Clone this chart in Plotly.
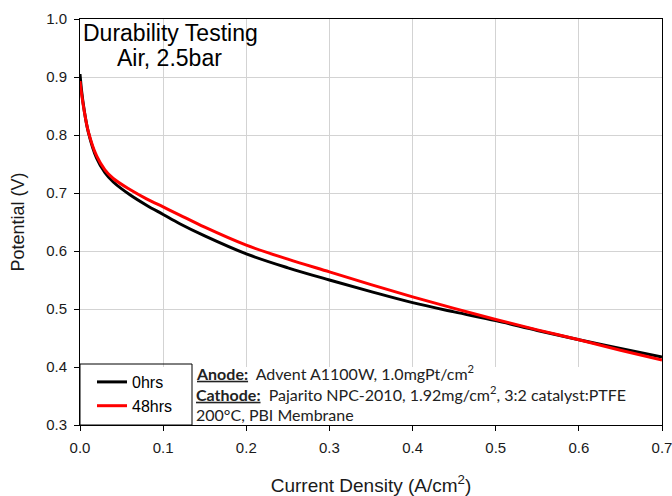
import plotly.graph_objects as go

# ---- data ----
current_density = [0.0, 0.002, 0.005, 0.01, 0.02, 0.03, 0.04, 0.06, 0.08, 0.10,
                   0.12, 0.15, 0.20, 0.25, 0.30, 0.35, 0.40, 0.45, 0.50, 0.55,
                   0.60, 0.65, 0.70]
potential_0hrs = [0.905, 0.875, 0.843, 0.805, 0.760, 0.735, 0.719, 0.697, 0.679, 0.663,
                  0.647, 0.626, 0.595, 0.571, 0.550, 0.530, 0.511, 0.495, 0.480, 0.463,
                  0.447, 0.432, 0.417]
potential_48hrs = [0.893, 0.870, 0.842, 0.806, 0.764, 0.740, 0.725, 0.706, 0.690, 0.676,
                   0.662, 0.641, 0.610, 0.586, 0.564, 0.542, 0.521, 0.501, 0.482, 0.464,
                   0.447, 0.429, 0.412]
series_names = ["0hrs", "48hrs"]
x_ticks = [0.0, 0.1, 0.2, 0.3, 0.4, 0.5, 0.6, 0.7]
y_ticks = [0.3, 0.4, 0.5, 0.6, 0.7, 0.8, 0.9, 1.0]

W, H = 672, 496
ML, MR, MT, MB = 80, 10, 19, 71
PW, PH = W - ML - MR, H - MT - MB


def px_x(p):
    return (p - ML) / PW


def px_y(p):
    return (H - MB - p) / PH


fig = go.Figure()
fig.add_trace(go.Scatter(x=current_density, y=potential_0hrs, mode="lines",
                         name=series_names[0], line=dict(color="#000000", width=3),
                         line_shape="spline"))
fig.add_trace(go.Scatter(x=current_density, y=potential_48hrs, mode="lines",
                         name=series_names[1], line=dict(color="#ff0000", width=3),
                         line_shape="spline"))

axis_common = dict(
    showline=True, linecolor="#000000", linewidth=1, mirror=True,
    ticks="outside", ticklen=5, tickcolor="#000000",
    showgrid=True, gridcolor="#d3d3d3", gridwidth=1,
    zeroline=False, automargin=False,
    tickfont=dict(family="Liberation Sans, Arial", size=15, color="#1a1a1a"),
)

fig.update_layout(
    width=W, height=H,
    margin=dict(l=ML, r=MR, t=MT, b=MB, autoexpand=False),
    paper_bgcolor="white", plot_bgcolor="white",
    font=dict(family="Liberation Sans, Arial", color="#1a1a1a"),
    showlegend=True,
    legend=dict(
        x=px_x(92), y=px_y(394), xanchor="left", yanchor="middle",
        bgcolor="rgba(0,0,0,0)", borderwidth=0,
        font=dict(family="Liberation Sans, Arial", size=16, color="#000000"),
        tracegroupgap=0,
    ),
    xaxis=dict(
        range=[0, 0.7], tickvals=x_ticks, tickformat=".1f",
        title=dict(text="Current Density (A/cm<sup>2</sup>)",
                   font=dict(family="Liberation Sans, Arial", size=19, color="#1a1a1a"),
                   standoff=23),
        ticklabelstandoff=4,
        ticklabeloverflow="allow",
        **axis_common,
    ),
    yaxis=dict(
        range=[0.3, 1.0], tickvals=y_ticks, tickformat=".1f",
        title=dict(text="Potential (V)",
                   font=dict(family="Liberation Sans, Arial", size=18, color="#1a1a1a"),
                   standoff=16),
        ticklabelstandoff=4,
        **axis_common,
    ),
)

# white panel covering the gridlines under the legend / notes
fig.add_shape(type="rect", xref="x", yref="y", x0=0, x1=0.7, y0=0.3, y1=0.4,
              fillcolor="white", line=dict(width=0), layer="between")
# legend frame
fig.add_shape(type="rect", xref="paper", yref="paper",
              x0=0, x1=px_x(192), y0=0, y1=px_y(364),
              fillcolor="rgba(0,0,0,0)", line=dict(color="#000000", width=1),
              layer="above")

# title text
fig.add_annotation(text="Durability Testing", xref="paper", yref="paper",
                   x=px_x(170), y=px_y(33), xanchor="center", yanchor="middle",
                   showarrow=False,
                   font=dict(family="Liberation Sans, Arial", size=23, color="#000000"))
fig.add_annotation(text="Air, 2.5bar", xref="paper", yref="paper",
                   x=px_x(169), y=px_y(58), xanchor="center", yanchor="middle",
                   showarrow=False,
                   font=dict(family="Liberation Sans, Arial", size=23, color="#000000"))

note_font = dict(family="Lato, Liberation Sans", size=16, color="#222222")
nb = "\u00a0"
notes = [
    ("<b><u>Anode:</u></b>" + nb * 2 + "Advent A1100W, 1.0mgPt/cm<sup>2</sup>", 372),
    ("<b><u>Cathode:</u></b>" + nb * 2 + "Pajarito NPC-2010, 1.92mg/cm<sup>2</sup>, 3:2 catalyst:PTFE", 393),
    ("200°C, PBI Membrane", 414),
]
for txt, py in notes:
    fig.add_annotation(text=txt, xref="paper", yref="paper",
                       x=px_x(194), y=px_y(py), xanchor="left", yanchor="middle",
                       showarrow=False, align="left", font=note_font)

fig.write_html("out.html")
